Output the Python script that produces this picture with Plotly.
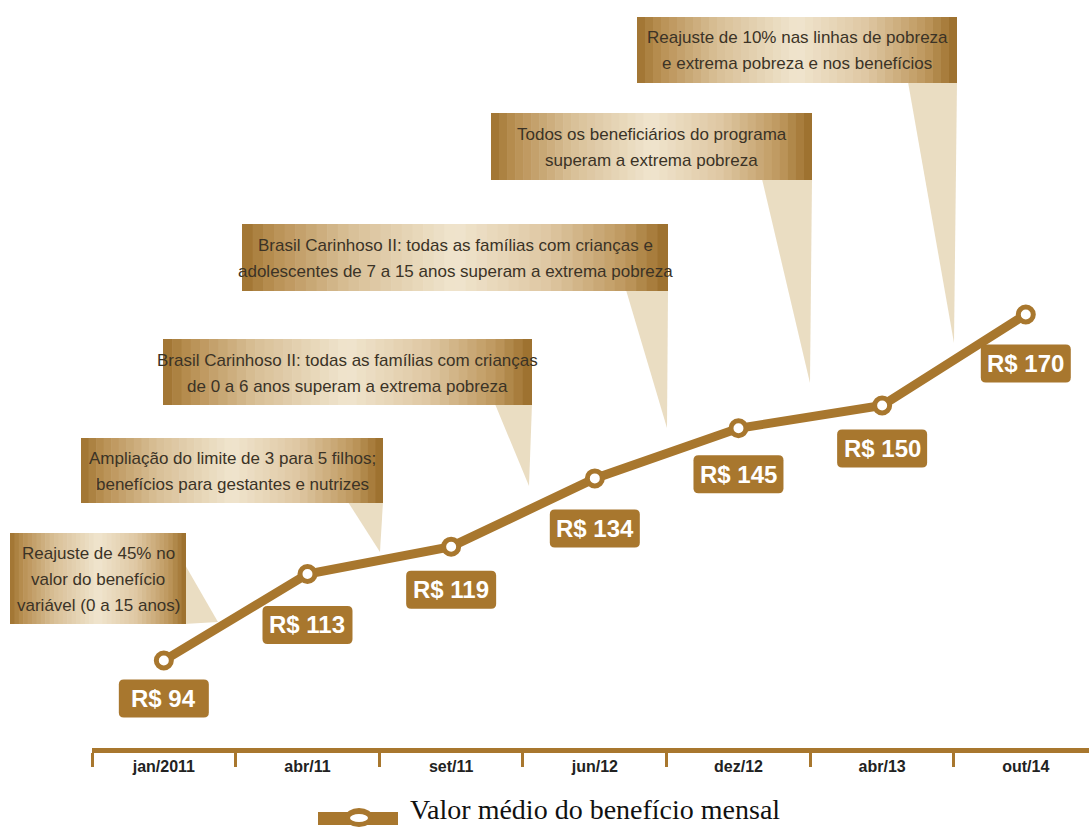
import plotly.graph_objects as go

# --- data -------------------------------------------------------------
meses = ["jan/2011", "abr/11", "set/11", "jun/12", "dez/12", "abr/13", "out/14"]
valores = [94, 113, 119, 134, 145, 150, 170]
rotulos = [f"R$ {v}" for v in valores]

marcos = [
    ["Reajuste de 45% no", "valor do benefício", "variável (0 a 15 anos)"],
    ["Ampliação do limite de 3 para 5 filhos;", "benefícios para gestantes e nutrizes"],
    ["Brasil Carinhoso II: todas as famílias com crianças",
     "de 0 a 6 anos superam a extrema pobreza"],
    ["Brasil Carinhoso II: todas as famílias com crianças e",
     "adolescentes de 7 a 15 anos superam a extrema pobreza"],
    ["Todos os beneficiários do programa", "superam a extrema pobreza"],
    ["Reajuste de 10% nas linhas de pobreza", "e extrema pobreza e nos benefícios"],
]
legenda = "Valor médio do benefício mensal"

# --- styling ----------------------------------------------------------
W, H = 1089, 827
BROWN = "#A8772E"
POINTER = "#EADDC2"
TEXT_DARK = "#3B3326"
SANS = "Liberation Sans, Arial, sans-serif"
LINE_GAP = 26  # px between callout text lines

# callout box geometry in page pixels: (left, top, right, bottom)
caixas = [
    (10, 533, 186, 624),
    (81, 438, 383, 503),
    (163, 339, 532, 405),
    (242, 224, 668, 291),
    (491, 113, 812, 180),
    (637, 17, 957, 83),
]
# pointer triangles in page pixels
ponteiros = [
    [(184, 563), (218, 622), (184, 624)],
    [(348, 502), (383, 502), (380, 552)],
    [(495, 404), (532, 404), (529, 486)],
    [(626, 290), (668, 290), (667, 428)],
    [(762, 179), (812, 179), (810, 383)],
    [(908, 82), (957, 82), (954, 343)],
]
# vertical offset of each value tag below its point (px)
desloc = [-38, -51, -43, -50, -46, -43, -49]
TAG_W, TAG_H, TAG_R = 90, 38, 5

# horizontal gold gradient of the callout boxes
stops = [
    (0.00, (0x9E, 0x72, 0x2F)),
    (0.07, (0xB8, 0x8F, 0x52)),
    (0.25, (0xD8, 0xBF, 0x96)),
    (0.50, (0xF0, 0xE5, 0xCE)),
    (0.72, (0xDE, 0xC7, 0xA2)),
    (0.90, (0xBE, 0x98, 0x5E)),
    (1.00, (0x9A, 0x6D, 0x2A)),
]


def grad(t):
    for (t0, c0), (t1, c1) in zip(stops[:-1], stops[1:]):
        if t0 <= t <= t1:
            f = (t - t0) / (t1 - t0)
            return "rgb(%d,%d,%d)" % tuple(round(a + (b - a) * f) for a, b in zip(c0, c1))
    return "rgb(%d,%d,%d)" % stops[-1][1]


def px(x):
    return x / W


def py(y):
    return 1 - y / H


def rounded_rect(cx, cy, w, h, r):
    x0, x1 = cx - w / 2, cx + w / 2
    y0, y1 = cy - h / 2, cy + h / 2
    return (f"M {x0 + r},{y0} L {x1 - r},{y0} Q {x1},{y0} {x1},{y0 + r} "
            f"L {x1},{y1 - r} Q {x1},{y1} {x1 - r},{y1} L {x0 + r},{y1} "
            f"Q {x0},{y1} {x0},{y1 - r} L {x0},{y0 + r} Q {x0},{y0} {x0 + r},{y0} Z")


shapes = []
annotations = []

# pointers first so the boxes sit on top of them
for tri in ponteiros:
    path = "M " + " L ".join(f"{px(x):.5f},{py(y):.5f}" for x, y in tri) + " Z"
    shapes.append(dict(type="path", path=path, xref="paper", yref="paper",
                       fillcolor=POINTER, line=dict(width=0), layer="below"))

N = 40
for (x0, y0, x1, y1), linhas in zip(caixas, marcos):
    w = (x1 - x0) / N
    for i in range(N):
        sx0 = x0 + i * w
        sx1 = min(x1, sx0 + w + 0.6)
        shapes.append(dict(type="rect", xref="paper", yref="paper",
                           x0=px(sx0), x1=px(sx1), y0=py(y1), y1=py(y0),
                           fillcolor=grad((i + 0.5) / N), line=dict(width=0), layer="below"))
    cy = (y0 + y1) / 2 + 1
    n = len(linhas)
    for k, linha in enumerate(linhas):
        ly = cy + (k - (n - 1) / 2) * LINE_GAP
        annotations.append(dict(xref="paper", yref="paper", x=px((x0 + x1) / 2), y=py(ly),
                                text=linha, showarrow=False, xanchor="center", yanchor="middle",
                                font=dict(family=SANS, size=17, color=TEXT_DARK)))

# value tags under each point: rounded brown tag anchored to the data point
for i, (m, v, r, dy) in enumerate(zip(meses, valores, rotulos, desloc)):
    shapes.append(dict(type="path", xref="x", yref="y", xsizemode="pixel", ysizemode="pixel",
                       xanchor=i, yanchor=v, path=rounded_rect(0, dy, TAG_W, TAG_H, TAG_R),
                       fillcolor=BROWN, line=dict(width=0), layer="above"))
    annotations.append(dict(x=m, y=v, xref="x", yref="y", text=r, showarrow=False,
                            yshift=dy, align="center",
                            font=dict(family=SANS, size=24, weight="bold", color="white")))

# legend drawn under the axis
shapes += [
    dict(type="rect", xref="paper", yref="paper", x0=px(318), x1=px(398), y0=py(825), y1=py(812),
         fillcolor=BROWN, line=dict(width=0)),
    dict(type="circle", xref="paper", yref="paper", x0=px(345), x1=px(373), y0=py(827), y1=py(808),
         fillcolor=BROWN, line=dict(width=0)),
    dict(type="circle", xref="paper", yref="paper", x0=px(350), x1=px(368), y0=py(822), y1=py(814),
         fillcolor="white", line=dict(width=0)),
]
annotations.append(dict(xref="paper", yref="paper", x=px(408), y=0, text=legenda,
                        showarrow=False, xanchor="left", yanchor="bottom",
                        font=dict(family="Liberation Serif, Times New Roman, serif", size=28,
                                  color="#111111")))

fig = go.Figure(go.Scatter(
    x=meses, y=valores, mode="lines+markers", name=legenda,
    line=dict(color=BROWN, width=9),
    marker=dict(symbol="circle", size=15, color="white", line=dict(color=BROWN, width=5)),
    hoverinfo="skip", cliponaxis=False,
))

fig.update_layout(
    width=W, height=H, margin=dict(l=0, r=0, t=0, b=0),
    paper_bgcolor="white", plot_bgcolor="white", showlegend=False,
    shapes=shapes, annotations=annotations,
    xaxis=dict(type="category", categoryorder="array", categoryarray=meses,
               range=[-0.5, 6.44], domain=[92 / W, 1], showgrid=False, zeroline=False,
               showline=True, linecolor=BROWN, linewidth=5,
               ticks="outside", tickson="boundaries", ticklen=14, tickwidth=3, tickcolor=BROWN,
               tickfont=dict(family=SANS, size=16, weight="bold", color="#222222"),
               fixedrange=True),
    yaxis=dict(range=[74.78, 239.07], domain=[(H - 748) / H, 1], visible=False, fixedrange=True),
)

fig.write_html("out.html")
